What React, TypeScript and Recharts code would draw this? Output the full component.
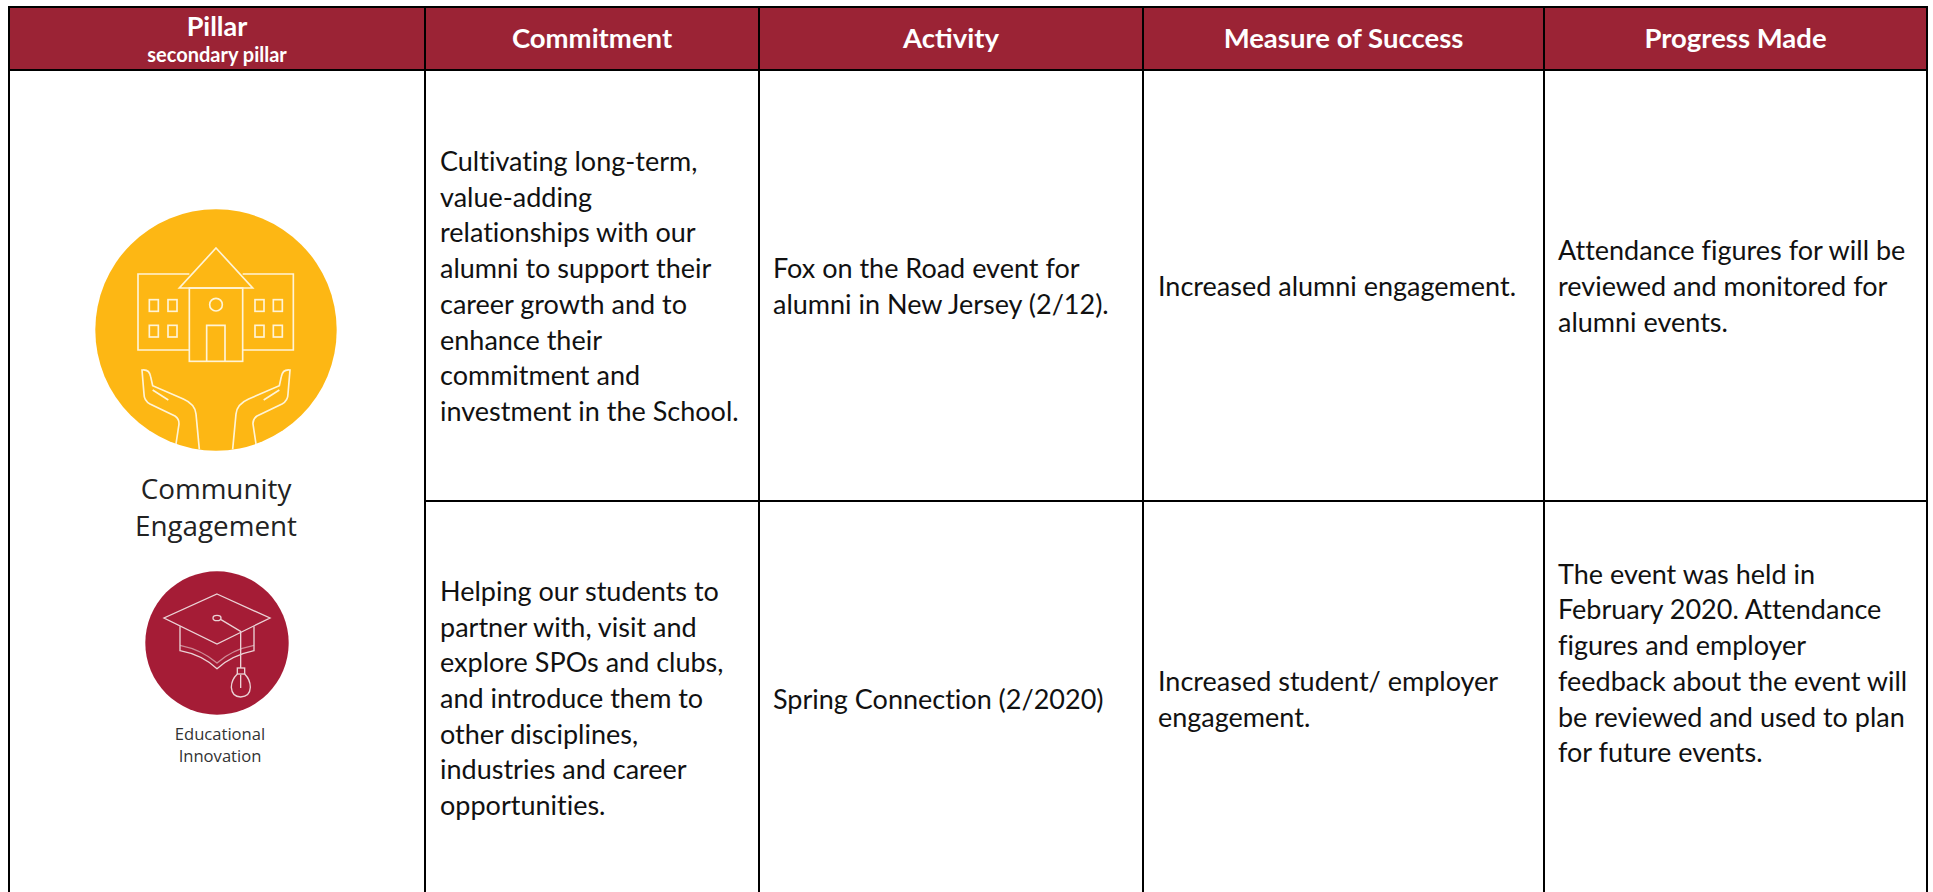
import React from 'react';
import { ScatterChart, Scatter, XAxis, YAxis, ReferenceArea, ReferenceLine } from 'recharts';

// table content
const headers = ['Commitment', 'Activity', 'Measure of Success', 'Progress Made'];
const pillarHeader = ['Pillar', 'secondary pillar'];
const commitmentRow1 = [
  'Cultivating long-term,',
  'value-adding',
  'relationships with our',
  'alumni to support their',
  'career growth and to',
  'enhance their',
  'commitment and',
  'investment in the School.',
];
const commitmentRow2 = [
  'Helping our students to',
  'partner with, visit and',
  'explore SPOs and clubs,',
  'and introduce them to',
  'other disciplines,',
  'industries and career',
  'opportunities.',
];
const activityRow1 = ['Fox on the Road event for', 'alumni in New Jersey (2/12).'];
const activityRow2 = ['Spring Connection (2/2020)'];
const measureRow1 = ['Increased alumni engagement.'];
const measureRow2 = ['Increased student/ employer', 'engagement.'];
const progressRow1 = ['Attendance figures for will be', 'reviewed and monitored for', 'alumni events.'];
const progressRow2 = [
  'The event was held in',
  'February 2020. Attendance',
  'figures and employer',
  'feedback about the event will',
  'be reviewed and used to plan',
  'for future events.',
];
const primaryPillar = ['Community', 'Engagement'];
const secondaryPillar = ['Educational', 'Innovation'];

// table layout
const W = 1933;
const H = 892;
const colEdges = [9, 425, 759, 1143, 1544, 1927];
const TOP = 7;
const HEAD_BOTTOM = 70;
const ROW_SPLIT = 501;
const PAD = 15;
const LINE_H = 35.7;
const FONT = 'Lato, "Open Sans", sans-serif';
const BORDER = '#000000';
const HEAD_FILL = '#9B2335';

const headerCells = headers.map((text, i) => ({
  x: (colEdges[i + 1] + colEdges[i + 2]) / 2,
  y: 39,
  lines: [text],
}));

const bodyCells = [
  { x: colEdges[1] + PAD, y: 287, lines: commitmentRow1 },
  { x: colEdges[1] + PAD, y: 699, lines: commitmentRow2 },
  { x: colEdges[2] + PAD - 1, y: 287, lines: activityRow1 },
  { x: colEdges[2] + PAD - 1, y: 700, lines: activityRow2 },
  { x: colEdges[3] + PAD, y: 287, lines: measureRow1 },
  { x: colEdges[3] + PAD, y: 700, lines: measureRow2 },
  { x: colEdges[4] + PAD - 1, y: 287, lines: progressRow1 },
  { x: colEdges[4] + PAD - 1, y: 664, lines: progressRow2 },
];

const BodyText = (props: any) => {
  const { cx, cy, payload } = props;
  const n = payload.lines.length;
  return (
    <text x={cx} y={cy} fontFamily={FONT} fontSize={27} fill="#111111" style={{ fontVariantLigatures: 'none' }}>
      {payload.lines.map((line: string, i: number) => (
        <tspan key={line} x={cx} y={cy + (i - (n - 1) / 2) * LINE_H + 9}>{line}</tspan>
      ))}
    </text>
  );
};

const HeaderText = (props: any) => {
  const { cx, cy, payload } = props;
  return (
    <text x={cx} y={cy + 9} textAnchor="middle" fontFamily={FONT} fontWeight={700} fontSize={27.5} fill="#ffffff">
      {payload.lines[0]}
    </text>
  );
};

const PillarHeader = (props: any) => {
  const { cx } = props;
  return (
    <g fontFamily={FONT} fontWeight={700} fill="#ffffff" textAnchor="middle">
      <text x={cx} y={36} fontSize={27}>{pillarHeader[0]}</text>
      <text x={cx} y={62} fontSize={20}>{pillarHeader[1]}</text>
    </g>
  );
};

const SchoolIcon = (props: any) => {
  const { cx, cy } = props;
  const hand = 'M318,760 L327,700 Q328,685 315,676 L240,640 Q222,630 222,610 L216,538 Q238,535 242,558 L248,585 L340,625 Q375,640 378,670 L388,776 M248,598 L295,628';
  const windows = [238, 294, 555, 610];
  const windowRows = [327, 404];
  return (
    <g>
      <circle cx={cx} cy={cy} r={120.7} fill="#FDB714" />
      <g transform={`translate(${cx},${cy}) scale(${1 / 3}) translate(-438,-418)`} fill="none" stroke="#FFF4D6" strokeWidth={5}>
        <path d="M358,250 L204,250 L204,478 L358,478 M518,250 L670,250 L670,478 L518,478" />
        <path d="M438,172 L548,292 L328,292 Z" />
        <rect x={358} y={292} width={160} height={220} />
        <path d="M410,512 L410,404 L465,404 L465,512" />
        <circle cx={438} cy={342} r={19} />
        {windows.map((wx) =>
          windowRows.map((wy) => <rect key={`${wx}-${wy}`} x={wx} y={wy} width={27} height={35} />)
        )}
        <path d={hand} />
        <path d={hand} transform="translate(876,0) scale(-1,1)" />
      </g>
      <g fontFamily='"Open Sans", sans-serif' fontSize={27.8} fill="#222222" textAnchor="middle">
        <text x={cx} y={499}>{primaryPillar[0]}</text>
        <text x={cx} y={536}>{primaryPillar[1]}</text>
      </g>
    </g>
  );
};

const CapIcon = (props: any) => {
  const { cx, cy } = props;
  return (
    <g>
      <circle cx={cx} cy={cy} r={71.7} fill="#A51C36" />
      <g transform={`translate(${cx},${cy}) scale(${1 / 3}) translate(-291,-275)`} fill="none" stroke="#EBD3D6" strokeWidth={4}>
        <path d="M291,128 L450,200 L291,278 L132,200 Z" />
        <path d="M180,225 L180,298 Q245,310 291,352 Q335,312 402,298 L402,225" />
        <path d="M180,282 Q245,295 291,335 Q335,295 402,282" strokeOpacity={0.6} />
        <ellipse cx={291} cy={200} rx={12} ry={8} />
        <path d="M303,205 L362,240 L362,350 M362,370 L362,410" />
        <rect x={352} y={350} width={22} height={18} />
        <path d="M352,368 Q334,385 334,408 Q336,436 362,437 Q390,436 391,408 Q391,385 374,368" />
      </g>
      <g fontFamily='"Open Sans", sans-serif' fontSize={16.6} fill="#333333" textAnchor="middle">
        <text x={cx + 3} y={740}>{secondaryPillar[0]}</text>
        <text x={cx + 3} y={762}>{secondaryPillar[1]}</text>
      </g>
    </g>
  );
};

export default function App() {
  const horizontal = [
    { y: TOP, x1: colEdges[0] - 1, x2: colEdges[5] + 1 },
    { y: HEAD_BOTTOM, x1: colEdges[0] - 1, x2: colEdges[5] + 1 },
    { y: ROW_SPLIT, x1: colEdges[1], x2: colEdges[5] },
  ];
  return (
    <div style={{ position: 'absolute', left: 0, top: 0, width: W, height: H, background: '#ffffff' }}>
      <ScatterChart width={W} height={H} margin={{ top: 0, right: 0, bottom: 0, left: 0 }}>
        <XAxis type="number" dataKey="x" domain={[0, W]} hide allowDataOverflow />
        <YAxis type="number" dataKey="y" domain={[0, H]} reversed hide allowDataOverflow />
        <ReferenceArea x1={colEdges[0]} x2={colEdges[5]} y1={TOP} y2={HEAD_BOTTOM} fill={HEAD_FILL} fillOpacity={1} stroke="none" />
        {colEdges.map((x) => (
          <ReferenceLine key={x} segment={[{ x, y: TOP }, { x, y: H }]} stroke={BORDER} strokeWidth={2} />
        ))}
        {horizontal.map((h) => (
          <ReferenceLine key={h.y} segment={[{ x: h.x1, y: h.y }, { x: h.x2, y: h.y }]} stroke={BORDER} strokeWidth={2} />
        ))}
        <Scatter data={[{ x: (colEdges[0] + colEdges[1]) / 2, y: 38 }]} shape={PillarHeader} isAnimationActive={false} />
        <Scatter data={headerCells} shape={HeaderText} isAnimationActive={false} />
        <Scatter data={bodyCells} shape={BodyText} isAnimationActive={false} />
        <Scatter data={[{ x: 216, y: 330 }]} shape={SchoolIcon} isAnimationActive={false} />
        <Scatter data={[{ x: 217, y: 643 }]} shape={CapIcon} isAnimationActive={false} />
      </ScatterChart>
    </div>
  );
}
